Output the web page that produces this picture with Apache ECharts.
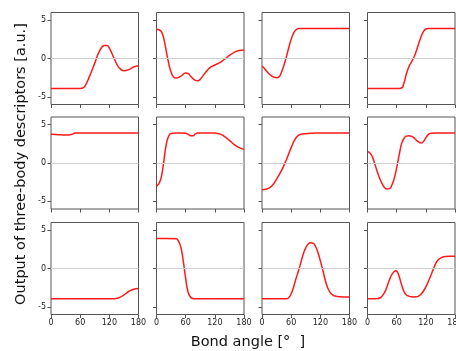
<!DOCTYPE html>
<html>
<head>
<meta charset="utf-8">
<script src="https://cdn.jsdelivr.net/npm/echarts@6/dist/echarts.min.js"></script>
<style>
  html, body { margin: 0; padding: 0; background: #fff; }
  #chart { width: 456px; height: 351px; }
</style>
</head>
<body>
<div id="chart"></div>
<script>
// panels, row by row: [bond angle in degrees, descriptor output]
const p11 = [[0,-3.9],[20,-3.9],[40,-3.9],[60,-3.9],[65,-3.85],[70,-3.6],[80,-2.2],[90,-0.6],[100,1.0],[110,1.7],[115,1.7],[120,1.35],[130,0.0],[140,-1.2],[150,-1.6],[160,-1.45],[170,-1.1],[180,-0.95]];
const p12 = [[0,3.8],[5,3.75],[10,3.5],[15,2.6],[20,1.0],[25,-0.6],[30,-1.8],[35,-2.4],[40,-2.55],[50,-2.3],[60,-1.9],[65,-1.95],[70,-2.3],[80,-2.85],[85,-2.9],[90,-2.7],[100,-1.9],[110,-1.2],[120,-0.85],[130,-0.55],[140,-0.1],[150,0.4],[160,0.8],[170,1.05],[180,1.1]];
const p13 = [[0,-1.0],[5,-1.3],[10,-1.7],[20,-2.3],[30,-2.5],[35,-2.4],[40,-1.8],[45,-0.9],[50,0.2],[55,1.4],[60,2.5],[65,3.3],[70,3.75],[75,3.9],[80,3.92],[120,3.92],[180,3.92]];
const p14 = [[0,-3.9],[30,-3.9],[65,-3.9],[70,-3.85],[75,-3.2],[80,-2.0],[85,-1.1],[90,-0.5],[95,0.1],[100,0.9],[105,1.9],[110,2.8],[115,3.5],[120,3.85],[125,3.92],[150,3.92],[180,3.92]];
const p21 = [[0,3.75],[10,3.72],[20,3.68],[30,3.65],[35,3.65],[40,3.7],[45,3.8],[50,3.9],[60,3.92],[120,3.92],[180,3.92]];
const p22 = [[0,-3.0],[5,-2.7],[10,-1.8],[15,0.2],[20,2.4],[25,3.5],[30,3.85],[40,3.9],[50,3.9],[60,3.88],[65,3.75],[70,3.55],[75,3.55],[80,3.8],[85,3.9],[90,3.92],[110,3.92],[120,3.9],[130,3.8],[140,3.45],[150,2.95],[160,2.4],[170,2.0],[180,1.8]];
const p23 = [[0,-3.5],[10,-3.4],[20,-3.0],[30,-2.1],[40,-1.0],[50,0.4],[60,2.0],[70,3.3],[80,3.75],[90,3.82],[100,3.87],[110,3.9],[120,3.92],[180,3.92]];
const p24 = [[0,1.5],[5,1.3],[10,0.8],[15,-0.1],[20,-1.1],[25,-2.0],[30,-2.7],[35,-3.2],[40,-3.4],[45,-3.35],[50,-2.9],[55,-2.0],[60,-0.6],[65,1.0],[70,2.5],[75,3.2],[80,3.5],[85,3.55],[90,3.5],[95,3.3],[100,3.0],[105,2.75],[110,2.6],[115,2.8],[120,3.3],[125,3.7],[130,3.88],[140,3.92],[180,3.92]];
const p31 = [[0,-3.95],[60,-3.95],[130,-3.95],[140,-3.8],[150,-3.45],[160,-3.0],[170,-2.7],[180,-2.6]];
const p32 = [[0,3.92],[20,3.92],[40,3.88],[45,3.6],[50,2.8],[55,1.0],[60,-1.3],[65,-3.1],[70,-3.75],[75,-3.92],[80,-3.95],[130,-3.95],[180,-3.95]];
const p33 = [[0,-3.95],[50,-3.95],[55,-3.8],[60,-3.3],[65,-2.4],[70,-1.3],[75,-0.3],[80,0.8],[85,1.9],[90,2.7],[95,3.2],[100,3.35],[105,3.3],[110,2.9],[115,2.1],[120,1.0],[125,-0.2],[130,-1.5],[135,-2.5],[140,-3.1],[145,-3.45],[150,-3.6],[160,-3.7],[170,-3.72],[180,-3.72]];
const p34 = [[0,-3.95],[15,-3.95],[20,-3.93],[25,-3.85],[30,-3.6],[35,-3.15],[40,-2.4],[45,-1.5],[50,-0.8],[55,-0.4],[58,-0.3],[61,-0.4],[65,-1.0],[70,-2.1],[75,-3.0],[80,-3.45],[85,-3.6],[90,-3.7],[95,-3.72],[100,-3.7],[105,-3.6],[110,-3.35],[115,-2.95],[120,-2.4],[125,-1.7],[130,-0.95],[135,-0.15],[140,0.6],[145,1.1],[150,1.35],[155,1.5],[160,1.58],[170,1.6],[180,1.6]];

const panels = [p11, p12, p13, p14, p21, p22, p23, p24, p31, p32, p33, p34];
const yTicks = [-5, 0, 5];

const colLeft = [51, 156.5, 262, 367.5];
const rowTop = [12.5, 117, 222.5];
const cellW = 87.5, cellH = 92;

const chart = echarts.init(document.getElementById('chart'));

const grid = [], xAxis = [], yAxis = [], series = [];
panels.forEach((data, i) => {
  const r = Math.floor(i / 4), c = i % 4;
  grid.push({
    left: colLeft[c], top: rowTop[r], width: cellW, height: cellH,
    outerBoundsMode: 'none', containLabel: false,
    show: true, borderColor: '#555', borderWidth: 1, backgroundColor: 'transparent'
  });
  xAxis.push({
    gridIndex: i, type: 'value', min: 0, max: 180, interval: 60,
    axisLine: { show: false, onZero: false },
    axisTick: { show: true, length: 3.5, lineStyle: { color: '#555' } },
    splitLine: { show: false },
    axisLabel: { show: r === 2, fontSize: 8, color: '#222', margin: 4, fontFamily: 'DejaVu Sans' }
  });
  yAxis.push({
    gridIndex: i, type: 'value', min: -6, max: 6,
    axisLine: { show: false, onZero: false },
    axisTick: { show: true, length: 3.5, lineStyle: { color: '#555' }, customValues: yTicks },
    splitLine: { show: false },
    axisLabel: { show: c === 0, fontSize: 8, color: '#222', margin: 5, fontFamily: 'DejaVu Sans', customValues: yTicks }
  });
  series.push({
    type: 'line', xAxisIndex: i, yAxisIndex: i, data: data,
    smooth: 0.5, symbol: 'none', silent: true,
    lineStyle: { color: '#ff1a1a', width: 1.5 },
    markLine: {
      silent: true, symbol: 'none', label: { show: false },
      lineStyle: { color: '#cfcfcf', type: 'solid', width: 1 },
      data: [{ yAxis: 0 }]
    },
    z: 3
  });
});

chart.setOption({
  animation: false,
  grid, xAxis, yAxis, series,
  graphic: [
    {
      type: 'text', x: 21, y: 164, rotation: Math.PI / 2,
      style: {
        text: 'Output of three-body descriptors [a.u.]',
        font: '14.5px "DejaVu Sans"', fill: '#111',
        textAlign: 'center', textVerticalAlign: 'middle'
      }
    },
    {
      type: 'text', x: 248, y: 342,
      style: {
        text: 'Bond angle [°  ]',
        font: '14.5px "DejaVu Sans"', fill: '#111',
        textAlign: 'center', textVerticalAlign: 'middle'
      }
    }
  ]
});
</script>
</body>
</html>
